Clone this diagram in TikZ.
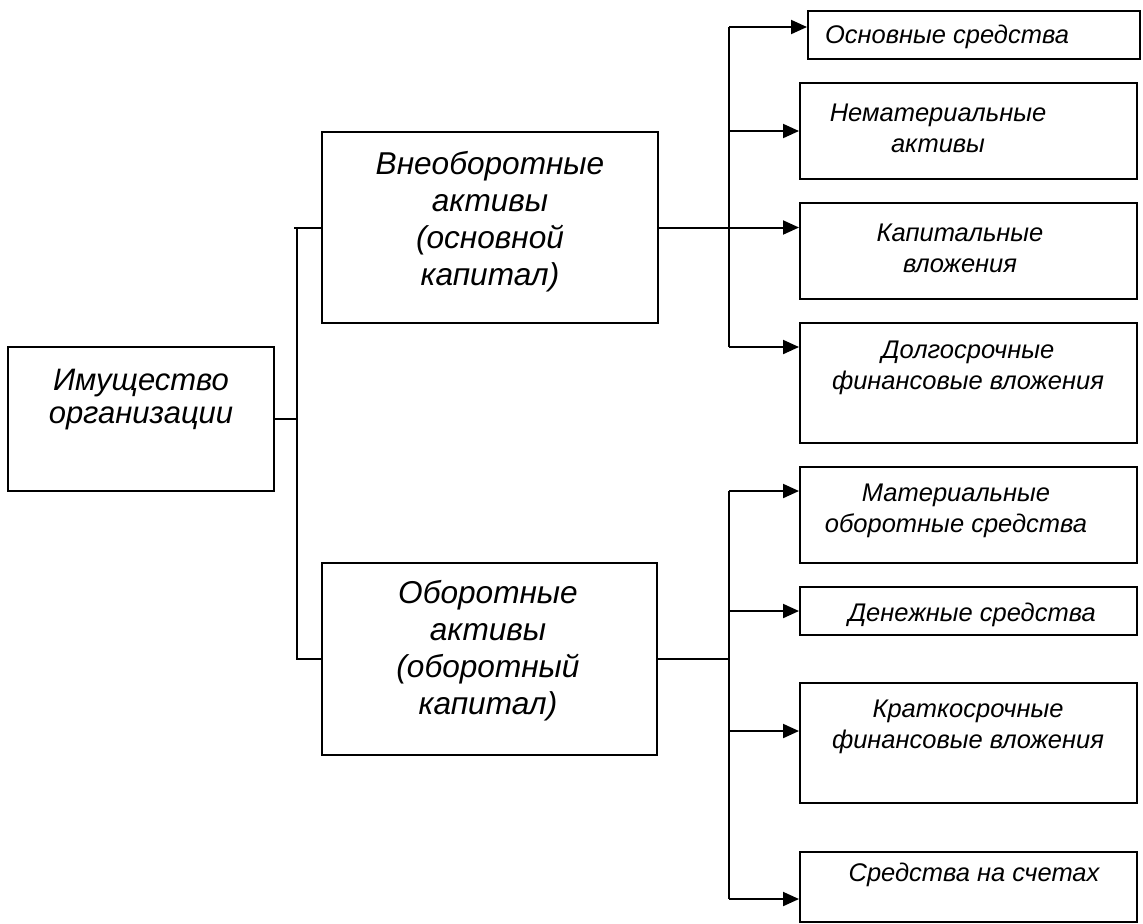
\documentclass[tikz,border=0pt]{standalone}
\usepackage{fontspec}
\setmainfont{Liberation Sans}
\usetikzlibrary{arrows.meta}

\begin{document}
\begin{tikzpicture}
[
x=0.5pt, y=-0.5pt,
line width=1pt,
box/.style={draw, rectangle, inner sep=0pt},
big/.style={inner sep=0pt, align=center, font=\fontsize{15.8}{18.5}\selectfont\itshape},
small/.style={inner sep=0pt, align=center, font=\fontsize{12.75}{15.5}\selectfont\itshape},
arr/.style={-{Triangle[length=8pt,width=7pt]}}
]
\useasboundingbox (0,0) rectangle (1143,923);

% boxes
\node[box, minimum width=133pt, minimum height=72pt] (root) at (141,419) {};
\node[box, minimum width=168pt, minimum height=95.5pt] (vneo) at (490,227.5) {};
\node[box, minimum width=167.5pt, minimum height=96pt] (ob) at (489.5,659) {};

\node[box, minimum width=166pt, minimum height=24pt] (osn) at (974,35) {};
\node[box, minimum width=168.5pt, minimum height=48pt] (nem) at (968.5,131) {};
\node[box, minimum width=168.5pt, minimum height=48pt] (kap) at (968.5,251) {};
\node[box, minimum width=168.5pt, minimum height=60pt] (dolg) at (968.5,383) {};
\node[box, minimum width=168.5pt, minimum height=48pt] (mat) at (968.5,515) {};
\node[box, minimum width=168.5pt, minimum height=24pt] (den) at (968.5,611) {};
\node[box, minimum width=168.5pt, minimum height=60pt] (krat) at (968.5,743) {};
\node[box, minimum width=168.5pt, minimum height=35pt] (sch) at (968.5,887) {};

% texts
\node[big, font=\fontsize{15.5}{16.5}\selectfont\itshape] (root-t) at (141,400) {Имущество\\организации};
\node[big] (vneo-t) at (490,222) {Внеоборотные\\активы\\(основной\\капитал)};
\node[big] (ob-t) at (488,651) {Оборотные\\активы\\(оборотный\\капитал)};

\node[small] (osn-t) at (947,37) {Основные средства};
\node[small] (nem-t) at (938,128) {Нематериальные\\активы};
\node[small] (kap-t) at (960,248) {Капитальные\\вложения};
\node[small] (dolg-t) at (968,368) {Долгосрочные\\финансовые вложения};
\node[small] (mat-t) at (956,511) {Материальные\\оборотные средства};
\node[small] (den-t) at (972,615) {Денежные средства};
\node[small] (krat-t) at (968,727) {Краткосрочные\\финансовые вложения};
\node[small] (sch-t) at (974,875) {Средства на счетах};

% trunks
\coordinate (lt) at (297,0);
\coordinate (r1) at (729,27);
\coordinate (r2) at (729,131);
\coordinate (r4) at (729,347);
\coordinate (r5) at (729,491);
\coordinate (r6) at (729,611);
\coordinate (r7) at (729,731);
\coordinate (r8) at (729,899);

\draw (root.east) -- (root.east -| lt);
\draw ([xshift=-1.5pt]vneo.west -| lt) -- (vneo.west);
\draw (vneo.west -| lt) -- (ob.west -| lt) -- (ob.west);

\draw (r1) -- (r4);
\draw[arr] (r1) -- (r1 -| osn.west);
\draw[arr] (r2) -- (r2 -| nem.west);
\draw[arr] (vneo.east) -- (vneo.east -| kap.west);
\draw[arr] (r4) -- (r4 -| dolg.west);

\draw (ob.east) -- (ob.east -| r5);
\draw (r5) -- (r8);
\draw[arr] (r5) -- (r5 -| mat.west);
\draw[arr] (r6) -- (r6 -| den.west);
\draw[arr] (r7) -- (r7 -| krat.west);
\draw[arr] (r8) -- (r8 -| sch.west);
\end{tikzpicture}
\end{document}
